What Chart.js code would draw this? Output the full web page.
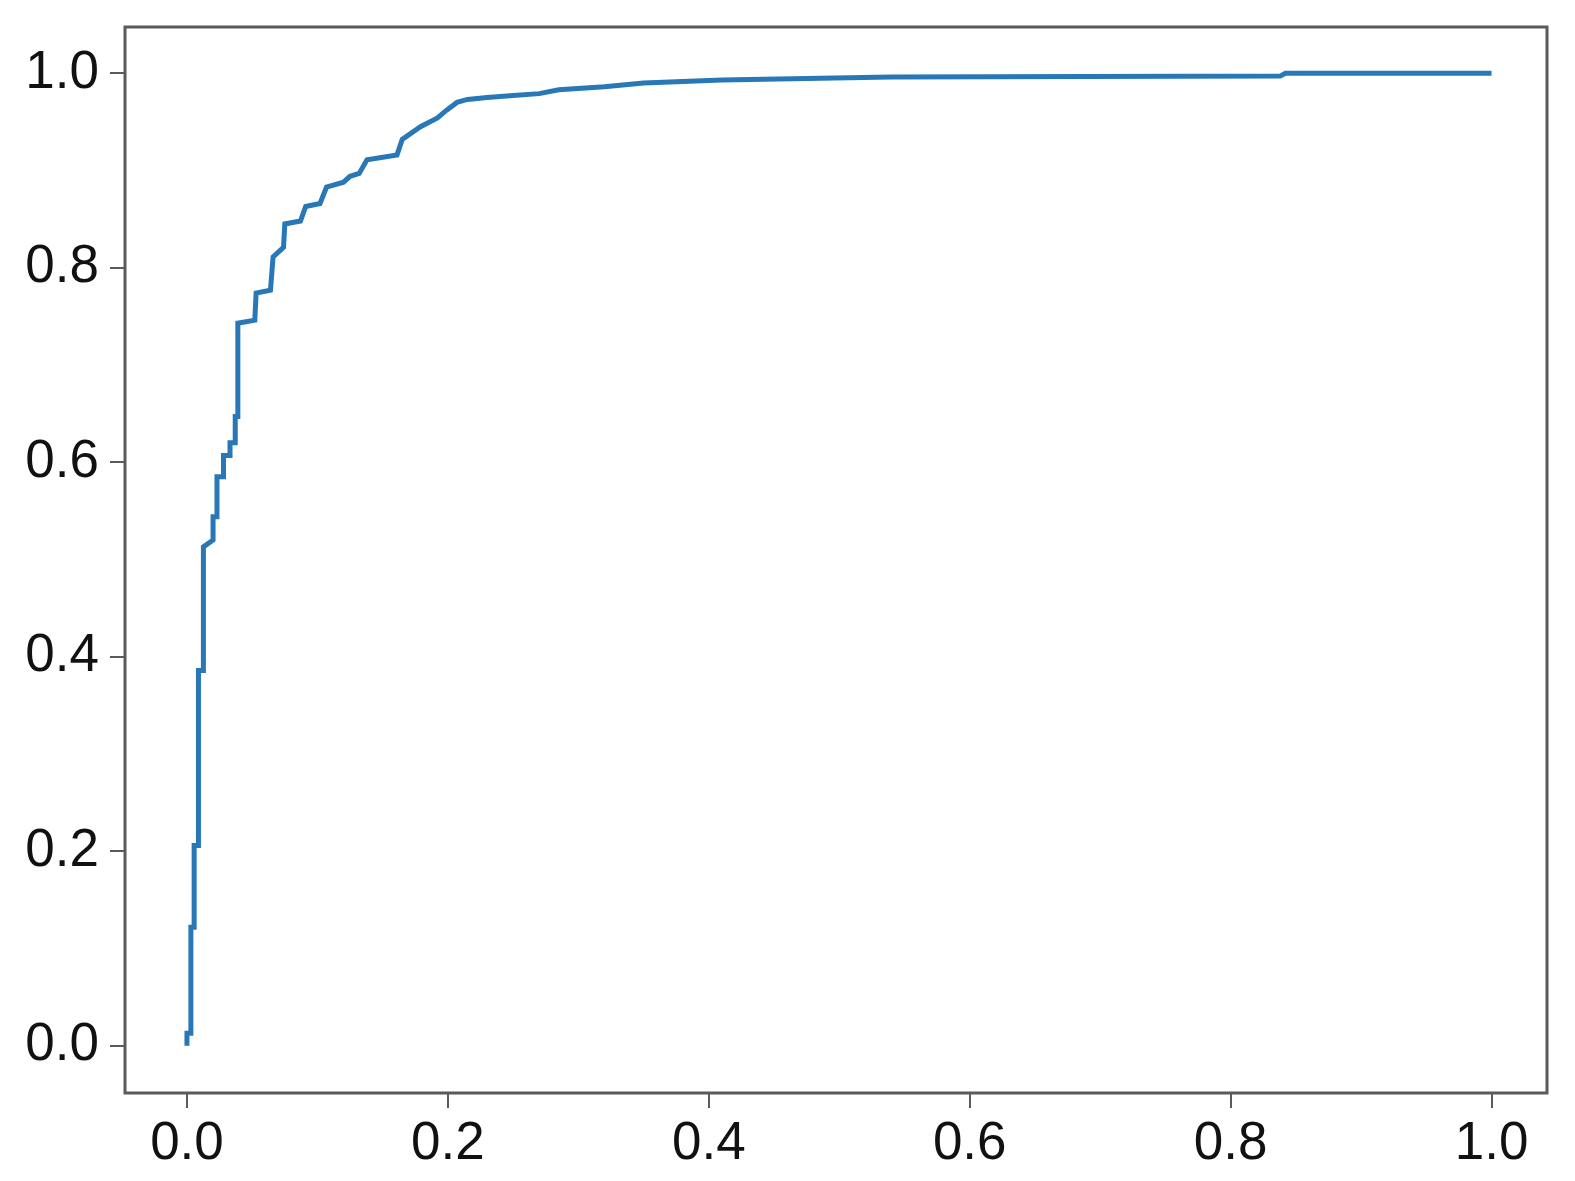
<!DOCTYPE html>
<html>
<head>
<meta charset="utf-8">
<script src="https://cdn.jsdelivr.net/npm/chart.js@4/dist/chart.umd.min.js"></script>
<style>
  html, body { margin: 0; padding: 0; background: #ffffff; }
  #wrap { width: 1575px; height: 1181px; position: relative; }
</style>
</head>
<body>
<div id="wrap"><canvas id="c" width="1575" height="1181"></canvas></div>
<script>
// ROC curve vertices
const fpr = [0, 0, 0.003, 0.003, 0.0055, 0.0055, 0.0088, 0.0088, 0.0126, 0.0126,
  0.020, 0.020, 0.023, 0.023, 0.028, 0.028, 0.033, 0.033, 0.037, 0.037,
  0.039, 0.039, 0.052, 0.053, 0.064, 0.066, 0.074, 0.075, 0.087, 0.091,
  0.102, 0.107, 0.120, 0.125, 0.132, 0.138, 0.161, 0.165, 0.179, 0.192,
  0.199, 0.207, 0.215, 0.230, 0.250, 0.270, 0.285, 0.320, 0.350, 0.410,
  0.540, 0.838, 0.842, 1.000];
const tpr = [0, 0.013, 0.013, 0.122, 0.122, 0.206, 0.206, 0.386, 0.386, 0.513,
  0.520, 0.544, 0.544, 0.585, 0.585, 0.607, 0.607, 0.620, 0.620, 0.647,
  0.647, 0.743, 0.746, 0.774, 0.777, 0.811, 0.821, 0.845, 0.848, 0.863,
  0.866, 0.883, 0.888, 0.894, 0.897, 0.911, 0.916, 0.932, 0.945, 0.954,
  0.962, 0.970, 0.973, 0.975, 0.977, 0.979, 0.983, 0.986, 0.990, 0.993,
  0.996, 0.997, 1.000, 1.000];
const xTicks = [0.0, 0.2, 0.4, 0.6, 0.8, 1.0];
const yTicks = [0.0, 0.2, 0.4, 0.6, 0.8, 1.0];

const points = fpr.map((f, i) => ({ x: f, y: tpr[i] }));

const frameColor = '#5a5a5a';
const framePlugin = {
  id: 'frame',
  afterDraw(chart) {
    const a = chart.chartArea, ctx = chart.ctx;
    ctx.save();
    ctx.strokeStyle = frameColor;
    ctx.lineWidth = 3;
    ctx.strokeRect(a.left, a.top, a.right - a.left, a.bottom - a.top);
    ctx.restore();
  }
};

const tickFont = { family: '"Liberation Sans", Arial, sans-serif', size: 53 };

new Chart(document.getElementById('c'), {
  type: 'scatter',
  data: {
    datasets: [{
      data: points,
      showLine: true,
      borderColor: '#2878b8',
      borderWidth: 5,
      pointRadius: 0,
      fill: false,
      tension: 0
    }]
  },
  options: {
    responsive: false,
    animation: false,
    layout: { padding: { left: 0, top: 27, right: 28, bottom: 0 } },
    plugins: { legend: { display: false }, tooltip: { enabled: false } },
    scales: {
      x: {
        type: 'linear',
        min: -0.0475,
        max: 1.0425,
        afterBuildTicks: s => { s.ticks = xTicks.map(v => ({ value: v })); },
        afterFit: s => { s.height = 88; s.paddingLeft = 0; s.paddingRight = 0; },
        border: { display: false },
        grid: { drawOnChartArea: false, drawTicks: true, tickLength: 15, color: frameColor, lineWidth: 2 },
        ticks: {
          color: '#111',
          padding: 5,
          maxRotation: 0,
          font: tickFont,
          callback: v => Number(v).toFixed(1)
        }
      },
      y: {
        type: 'linear',
        min: -0.0485,
        max: 1.0475,
        afterBuildTicks: s => { s.ticks = yTicks.map(v => ({ value: v })); },
        afterFit: s => { s.width = 125; s.paddingTop = 0; s.paddingBottom = 0; },
        border: { display: false },
        grid: { drawOnChartArea: false, drawTicks: true, tickLength: 15, color: frameColor, lineWidth: 2 },
        ticks: {
          color: '#111',
          padding: 11,
          font: tickFont,
          callback: v => Number(v).toFixed(1)
        }
      }
    }
  },
  plugins: [framePlugin]
});
</script>
</body>
</html>
